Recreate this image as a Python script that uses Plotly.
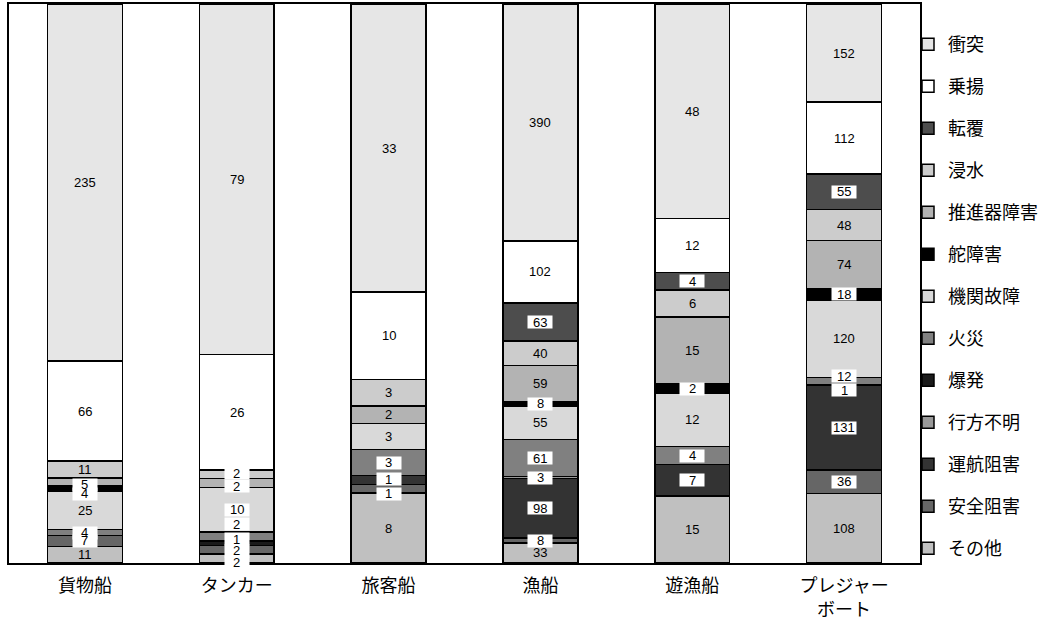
import plotly.graph_objects as go

# Vessel types (x categories) and accident types, stacked bottom to top
categories = ["貨物船", "タンカー", "旅客船", "漁船", "遊漁船", "プレジャー<br>ボート"]

series_names = ["その他", "安全阻害", "運航阻害", "行方不明", "爆発", "火災",
                "機関故障", "舵障害", "推進器障害", "浸水", "転覆", "乗揚", "衝突"]

sonota      = [11, 2, 8, 33, 15, 108]
anzen_sogai = [7, 2, 1, 8, 0, 36]
unko_sogai  = [0, 0, 1, 98, 7, 131]
yukue_fumei = [0, 0, 0, 3, 0, 0]
bakuhatsu   = [0, 1, 0, 0, 0, 1]
kasai       = [4, 2, 3, 61, 4, 12]
kikan_kosho = [25, 10, 3, 55, 12, 120]
da_shogai   = [4, 0, 0, 8, 2, 18]
suishinki   = [5, 2, 2, 59, 15, 74]
shinsui     = [11, 2, 3, 40, 6, 48]
tenpuku     = [0, 0, 0, 63, 4, 55]
noriage     = [66, 26, 10, 102, 12, 112]
shototsu    = [235, 79, 33, 390, 48, 152]

values = [sonota, anzen_sogai, unko_sogai, yukue_fumei, bakuhatsu, kasai,
          kikan_kosho, da_shogai, suishinki, shinsui, tenpuku, noriage, shototsu]

# Grey shades for each accident type
fills = {
    "その他": "#c0c0c0", "安全阻害": "#666666", "運航阻害": "#333333",
    "行方不明": "#999999", "爆発": "#1a1a1a", "火災": "#808080",
    "機関故障": "#d9d9d9", "舵障害": "#000000", "推進器障害": "#b3b3b3",
    "浸水": "#cccccc", "転覆": "#4d4d4d", "乗揚": "#ffffff", "衝突": "#e6e6e6",
}

# Labels drawn on a white box
boxed_types = {"安全阻害", "運航阻害", "行方不明", "爆発", "火災", "舵障害", "転覆"}
boxed_extra = {(0, "推進器障害"), (1, "その他"), (1, "機関故障"),
               (1, "推進器障害"), (1, "浸水")}

# Small vertical nudges (px) to keep crowded labels apart
label_nudge = {
    (0, "舵障害"): -5, (0, "推進器障害"): -3,
    (1, "その他"): -4, (1, "安全阻害"): -1, (1, "爆発"): 4, (1, "火災"): 12,
    (1, "推進器障害"): -3, (1, "浸水"): 1,
    (2, "安全阻害"): -5, (2, "運航阻害"): 1,
    (5, "爆発"): -5, (5, "火災"): 5,
}

fig = go.Figure()
n_series = len(series_names)
for k, (name, vals) in enumerate(zip(series_names, values)):
    fig.add_trace(go.Bar(
        x=categories, y=vals, name=name, legendgroup=name,
        legendrank=n_series - k,  # top of the stack listed first
        marker=dict(color=fills[name], line=dict(color="black", width=1.5)),
        hoverinfo="skip",
    ))

totals = [sum(v[i] for v in values) for i in range(len(categories))]
boxes, labels = [], []
for i, cat in enumerate(categories):
    cum = 0
    for name, vals in zip(series_names, values):
        v = vals[i]
        if v > 0:
            mid = (cum + v / 2) / totals[i] * 100
            shift = label_nudge.get((i, name), 0)
            if name in boxed_types or (i, name) in boxed_extra:
                boxes.append(dict(
                    x=cat, y=mid, xref="x", yref="y", text=" ", showarrow=False,
                    bgcolor="white", width=24, height=12, borderpad=0,
                    font=dict(size=10), yshift=shift,
                ))
            labels.append(dict(
                x=cat, y=mid, xref="x", yref="y", text=str(v), showarrow=False,
                font=dict(family="Liberation Sans, Arial", size=13, color="black"),
                yshift=shift,
            ))
        cum += v

fig.update_layout(
    barmode="stack", barnorm="percent", bargap=0.508,
    width=1044, height=620,
    margin=dict(l=9, r=124, t=4, b=57, autoexpand=False),
    paper_bgcolor="white", plot_bgcolor="white",
    showlegend=True,
    legend=dict(
        traceorder="grouped", tracegroupgap=15.6, maxheight=1,
        xref="container", x=908 / 1044, xanchor="left",
        yref="container", y=1 - 26 / 620, yanchor="top",
        font=dict(family="Noto Sans CJK JP", size=18, color="black"),
        bgcolor="rgba(0,0,0,0)", borderwidth=0,
    ),
    annotations=boxes + labels,
    xaxis=dict(
        showline=True, linecolor="black", linewidth=1.5, mirror=True,
        ticks="", showgrid=False, ticklabelstandoff=6,
        tickfont=dict(family="Noto Sans CJK JP", size=18, color="black"),
    ),
    yaxis=dict(
        range=[0, 100], showline=True, linecolor="black", linewidth=1.5,
        mirror=True, showticklabels=False, ticks="", showgrid=False,
        zeroline=False,
    ),
)

fig.write_html("out.html")
